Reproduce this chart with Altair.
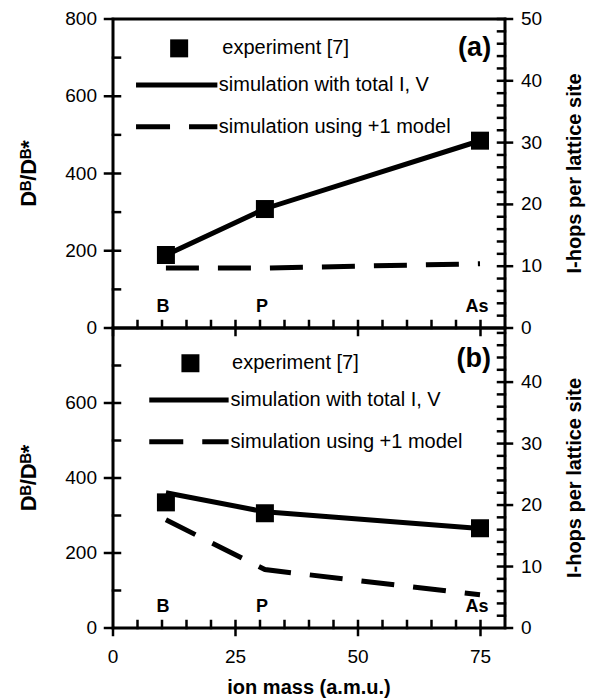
import altair as alt
import pandas as pd

FONT = "Liberation Sans"

# ---------------- data ----------------
elements = ["B", "P", "As"]
mass = [10.8, 31.0, 74.9]

# panel (a)
exp_a = [189, 308, 485]            # D^B/D^B* (left axis)
sim_total_a = [11.8, 19.3, 30.3]   # I-hops per lattice site (right axis)
sim_plus1_a = [9.7, 9.7, 10.4]

# panel (b)
exp_b = [335, 306, 266]
sim_total_b = [22.0, 18.9, 16.2]
sim_plus1_b = [17.6, 9.5, 5.4]

legend_labels = ["experiment [7]", "simulation with total I, V", "simulation using +1 model"]

x_major = [0, 25, 50, 75]
x_minor = list(range(5, 80, 5))

left_title = "Dᴮ/Dᴮ*"
right_title = "I-hops per lattice site"
x_title = "ion mass (a.m.u.)"

W = 392
H_A = 309
H_B = 300

X_SCALE = alt.Scale(domain=[0, 80], nice=False, zero=False)
TK = dict(color="black", strokeWidth=2.5, strokeCap="square")


def tick_x(vals, h, y0, y1):
    df = pd.DataFrame({"v": vals})
    return [alt.Chart(df).mark_rule(**TK).encode(
        x=alt.X("v:Q", scale=X_SCALE, axis=None),
        y=alt.value(h + y0), y2=alt.value(h + y1))]


def tick_y(vals, scale, x0, x1):
    df = pd.DataFrame({"v": vals})
    return [alt.Chart(df).mark_rule(**TK).encode(
        y=alt.Y("v:Q", scale=scale, axis=None),
        x=alt.value(x0), x2=alt.value(x1))]


def tick_labels_y(vals, scale, xpix, align):
    df = pd.DataFrame({"v": vals, "t": [str(v) for v in vals]})
    return alt.Chart(df).mark_text(font=FONT, fontSize=19, color="black", align=align,
                                   baseline="middle").encode(
        y=alt.Y("v:Q", scale=scale, axis=None), x=alt.value(xpix), text="t:N")


def tick_labels_x(vals, ypix):
    df = pd.DataFrame({"v": vals, "t": [str(v) for v in vals]})
    return alt.Chart(df).mark_text(font=FONT, fontSize=19, color="black", align="center",
                                   baseline="middle").encode(
        x=alt.X("v:Q", scale=X_SCALE, axis=None), y=alt.value(ypix), text="t:N")


def title_text(txt, xpix, ypix, angle, size):
    df = pd.DataFrame({"t": [txt]})
    return alt.Chart(df).mark_text(font=FONT, fontSize=size, fontWeight="bold", color="black",
                                   align="center", baseline="middle", angle=angle).encode(
        x=alt.value(xpix), y=alt.value(ypix), text="t:N")


def make_panel(exp, sim_tot, sim_p1, h, left_max, right_max, left_vals, right_vals,
               tag, tag_xy, leg, bottom):
    ls = alt.Scale(domain=[0, left_max], nice=False)
    rs = alt.Scale(domain=[0, right_max], nice=False)
    noax_x = dict(scale=X_SCALE, axis=None)
    noax_y = dict(scale=ls, axis=None)

    df_exp = pd.DataFrame({"mass": mass, "value": exp})
    df_lab = pd.DataFrame({"mass": [m - 0.6 for m in mass], "value": [55] * 3, "element": elements})
    df_tot = pd.DataFrame({"mass": mass, "value": sim_tot})
    df_p1 = pd.DataFrame({"mass": mass, "value": sim_p1})

    squares = alt.Chart(df_exp).mark_square(size=324, color="black", opacity=1).encode(
        x=alt.X("mass:Q", **noax_x), y=alt.Y("value:Q", **noax_y))
    labels = alt.Chart(df_lab).mark_text(font=FONT, fontSize=18, fontWeight="bold",
                                         color="black", baseline="middle").encode(
        x=alt.X("mass:Q", **noax_x), y=alt.Y("value:Q", **noax_y), text="element:N")

    leg_sq = pd.DataFrame({"x": [leg["sq"][0]], "y": [leg["sq"][1]]})
    leg_ln = pd.DataFrame({"x": [leg["line_x"][0]], "x2": [leg["line_x"][1]],
                           "y": [leg["solid_y"]]})
    leg_ds = pd.DataFrame({"x": [leg["line_x"][0]], "x2": [leg["line_x"][1]],
                           "y": [leg["dash_y"]]})
    leg_tx = pd.DataFrame({"x": [leg["exp_tx"], leg["tx"], leg["tx"]],
                           "y": [leg["sq"][1], leg["solid_y"], leg["dash_y"]],
                           "t": legend_labels})
    tag_df = pd.DataFrame({"x": [tag_xy[0]], "y": [tag_xy[1]], "t": [tag]})

    l_sq = alt.Chart(leg_sq).mark_square(size=324, color="black", opacity=1).encode(
        x=alt.X("x:Q", **noax_x), y=alt.Y("y:Q", **noax_y))
    l_ln = alt.Chart(leg_ln).mark_rule(color="black", strokeWidth=5).encode(
        x=alt.X("x:Q", **noax_x), x2="x2:Q", y=alt.Y("y:Q", **noax_y))
    l_ds = alt.Chart(leg_ds).mark_rule(color="black", strokeWidth=5, strokeDash=[34, 19]).encode(
        x=alt.X("x:Q", **noax_x), x2="x2:Q", y=alt.Y("y:Q", **noax_y))
    l_tx = alt.Chart(leg_tx).mark_text(font=FONT, fontSize=20, color="black", align="left",
                                       baseline="middle").encode(
        x=alt.X("x:Q", **noax_x), y=alt.Y("y:Q", **noax_y), text="t:N")
    l_tag = alt.Chart(tag_df).mark_text(font=FONT, fontSize=27, fontWeight="bold",
                                        color="black", baseline="middle").encode(
        x=alt.X("x:Q", **noax_x), y=alt.Y("y:Q", **noax_y), text="t:N")

    left_parts = [squares, labels, l_sq, l_ln, l_ds, l_tx, l_tag]
    left_parts += tick_x(x_minor, h, -7, 0)
    left_parts += tick_x(x_major, h, 0, 7)
    left_parts += tick_y(list(range(100, left_max, 100)), ls, 0, 7)
    left_parts += tick_y(left_vals, ls, -8, 0)
    left_parts += [tick_labels_y(left_vals, ls, -16, "right"),
                   title_text(left_title, -84, h / 2, 270, 22)]
    if bottom:
        left_parts += [tick_labels_x(x_major, h + 29),
                       title_text(x_title, W / 2, h + 60, 0, 20)]
    left = alt.layer(*left_parts)

    solid = alt.Chart(df_tot).mark_line(color="black", strokeWidth=5, strokeCap="butt").encode(
        x=alt.X("mass:Q", **noax_x), y=alt.Y("value:Q", scale=rs, axis=None))
    dashed = alt.Chart(df_p1).mark_line(color="black", strokeWidth=5, strokeCap="butt",
                                        strokeDash=[33, 19]).encode(
        x=alt.X("mass:Q", **noax_x), y=alt.Y("value:Q", scale=rs, axis=None))
    right_parts = [solid, dashed]
    right_parts += tick_y(list(range(2, int(right_max) + 1, 2)), rs, W - 7, W)
    right_parts += tick_y(right_vals, rs, W, W + 7)
    right_parts += [tick_labels_y(right_vals, rs, W + 16, "left"),
                    title_text(right_title, W + 70, h / 2, 270, 20)]
    right = alt.layer(*right_parts)

    return alt.layer(left, right).resolve_scale(y="independent").properties(width=W, height=h)


panel_a = make_panel(
    exp_a, sim_total_a, sim_plus1_a, H_A, 800, 50,
    [0, 200, 400, 600, 800], [0, 10, 20, 30, 40, 50],
    "(a)", (73.8, 725),
    {"sq": (13.5, 724), "line_x": (4.7, 21.3), "solid_y": 629, "dash_y": 521,
     "exp_tx": 22.3, "tx": 21.6},
    bottom=False,
)
panel_b = make_panel(
    exp_b, sim_total_b, sim_plus1_b, H_B, 800, 48.8,
    [0, 200, 400, 600], [0, 10, 20, 30, 40],
    "(b)", (73.6, 717),
    {"sq": (15.8, 706), "line_x": (7.4, 23.6), "solid_y": 608, "dash_y": 497,
     "exp_tx": 24.3, "tx": 24.0},
    bottom=True,
)

chart = alt.vconcat(panel_a, panel_b, spacing=0, bounds="flush").properties(
    padding={"left": 16, "top": 8, "right": 2, "bottom": 2}
).configure_view(
    stroke="black", strokeWidth=3
)

chart.save("out.html", embed_options={"renderer": "svg", "actions": False})
